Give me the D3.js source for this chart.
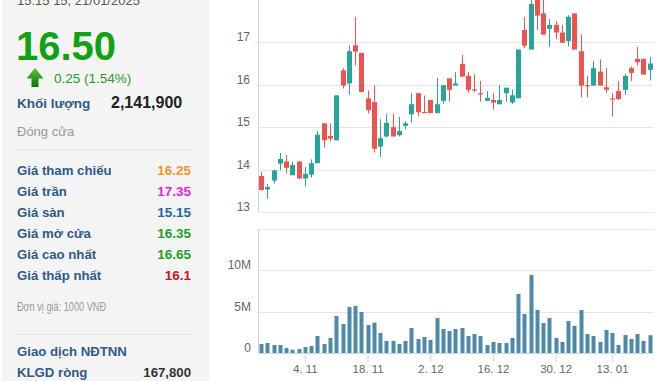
<!DOCTYPE html>
<html><head><meta charset="utf-8">
<script src="https://cdn.jsdelivr.net/npm/d3@7"></script>
<style>
html,body{margin:0;padding:0;background:#fff;overflow:hidden}
svg{display:block;font-family:"Liberation Sans",Arial,sans-serif}
</style></head><body>
<svg id="c" width="659" height="381"></svg>
<script>
// ---------- data ----------
const dates = ["2024-10-24","2024-10-25","2024-10-28","2024-10-29","2024-10-30","2024-10-31","2024-11-01",
"2024-11-04","2024-11-05","2024-11-06","2024-11-07","2024-11-08","2024-11-11","2024-11-12","2024-11-13","2024-11-14","2024-11-15",
"2024-11-18","2024-11-19","2024-11-20","2024-11-21","2024-11-22","2024-11-25","2024-11-26","2024-11-27","2024-11-28","2024-11-29",
"2024-12-02","2024-12-03","2024-12-04","2024-12-05","2024-12-06","2024-12-09","2024-12-10","2024-12-11","2024-12-12","2024-12-13",
"2024-12-16","2024-12-17","2024-12-18","2024-12-19","2024-12-20","2024-12-23","2024-12-24","2024-12-25","2024-12-26","2024-12-27",
"2024-12-30","2024-12-31","2025-01-02","2025-01-03","2025-01-06","2025-01-07","2025-01-08","2025-01-09","2025-01-10",
"2025-01-13","2025-01-14","2025-01-15","2025-01-16","2025-01-17","2025-01-20","2025-01-21"];
const open  = [13.85,13.53,13.74,14.14,14.19,13.87,14.19,13.79,13.88,14.15,15.09,14.79,14.69,16.34,16.03,16.93,16.75,15.68,15.59,14.54,14.78,15.00,14.81,15.03,15.30,15.80,15.36,15.64,15.33,15.62,16.15,15.98,16.49,16.21,15.89,15.80,15.62,15.64,15.54,15.80,15.58,15.68,17.29,16.83,18.05,17.68,17.32,17.41,17.23,17.03,17.68,16.79,15.99,15.98,16.31,15.94,15.68,15.85,15.88,16.39,16.61,16.61,16.35];
const high  = [13.95,13.66,14.00,14.39,14.34,14.19,14.20,14.06,14.24,14.91,15.09,15.09,15.75,16.39,16.92,17.60,16.75,15.86,15.99,15.19,15.31,15.31,15.24,15.14,15.80,15.80,15.75,15.64,16.16,15.99,16.15,16.30,16.70,16.30,16.25,16.09,15.85,15.80,15.99,15.93,15.89,16.83,17.60,18.10,18.20,18.05,17.55,17.50,17.41,17.64,17.68,17.19,16.21,16.56,16.60,16.39,15.80,16.09,16.25,16.43,16.89,16.61,16.65];
const low   = [13.50,13.31,13.67,13.99,13.91,13.86,13.78,13.60,13.81,14.15,14.52,14.67,14.69,15.91,15.77,16.45,15.82,15.32,14.40,14.30,14.76,14.78,14.78,14.96,15.11,15.25,15.35,15.33,15.33,15.55,15.60,15.98,16.19,15.81,15.82,15.60,15.62,15.41,15.54,15.60,15.55,15.68,16.86,16.83,17.29,17.18,16.90,17.07,16.99,16.90,16.83,15.70,15.70,15.98,15.98,15.81,15.25,15.64,15.76,16.09,16.45,16.24,16.10];
const close = [13.52,13.59,13.98,14.25,14.04,14.11,13.79,13.90,14.15,14.82,14.69,14.73,15.75,15.98,16.79,16.78,15.83,15.40,14.49,14.74,15.10,14.78,14.91,15.09,15.54,15.35,15.35,15.33,15.54,15.99,15.88,16.03,16.19,15.88,15.87,15.78,15.69,15.58,15.64,15.93,15.75,16.83,16.92,17.90,17.63,17.18,17.41,17.23,16.99,17.60,16.83,15.98,15.98,16.39,15.98,15.88,15.67,15.66,16.21,16.28,16.53,16.24,16.50];
const volume = [1080000,1200000,960000,960000,600000,400000,480000,720000,840000,2050000,1080000,1810000,4460000,3490000,5540000,5660000,4940000,3370000,3650000,2410000,1450000,1450000,1080000,1450000,3010000,1690000,1930000,1570000,4220000,2890000,2650000,2890000,3010000,2050000,2290000,2050000,960000,1330000,1200000,1200000,1810000,7110000,4700000,9400000,5180000,3610000,4220000,1810000,1330000,3860000,3250000,5180000,2290000,2050000,1330000,2770000,2410000,960000,2170000,1690000,2290000,1450000,2141900];
const tickDates  = ["2024-11-04","2024-11-18","2024-12-02","2024-12-16","2024-12-30","2025-01-13"];
const tickLabels = ["4. 11","18. 11","2. 12","16. 12","30. 12","13. 01"];
const priceTicks = [13,14,15,16,17];
const volumeTicks = [0,5000000,10000000,15000000];
const volumeTickLabels = ["0","5M","10M",""];
const infoLabels = ["Giá tham chiếu","Giá trần","Giá sàn","Giá mở cửa","Giá cao nhất","Giá thấp nhất"];
const infoValues = ["16.25","17.35","15.15","16.35","16.65","16.1"];

// ---------- styles ----------
const UP="#26a69a", DOWN="#ef5350", VOL="#4f89a8", GRID="#e6e6e6", AXIS="#ccd6eb";
const LABEL_BLUE="#2f5a8a";
const infoColors=["#f7941d","#e81ee8","#2d63a3","#1f9e1f","#1f9e1f","#d0121b"];

const svg=d3.select("#c");

// ---------- left info panel ----------
svg.append("rect").attr("x",2).attr("y",0).attr("width",207).attr("height",381).attr("fill","#f4f4f4");
svg.append("text").attr("x",17).attr("y",5).attr("font-size",13).attr("fill","#555").text("15:15 15, 21/01/2025");
svg.append("text").attr("x",16).attr("y",60).attr("font-size",40).attr("font-weight","bold").attr("fill","#12a112").text("16.50");
const defs=svg.append("defs");
const g1=defs.append("linearGradient").attr("id","ag").attr("x1",0).attr("y1",0).attr("x2",0).attr("y2",1);
g1.append("stop").attr("offset","0%").attr("stop-color","#5cc23c");
g1.append("stop").attr("offset","100%").attr("stop-color","#0b740b");
svg.append("path").attr("d","M35,68 L43.5,78.5 L38.5,78.5 L38.5,87 L31.5,87 L31.5,78.5 L26.5,78.5 Z").attr("fill","url(#ag)");
svg.append("text").attr("x",54).attr("y",83).attr("font-size",13.5).attr("fill","#1f9e1f").text("0.25 (1.54%)");
svg.append("text").attr("x",17).attr("y",108).attr("font-size",13.5).attr("font-weight","bold").attr("fill",LABEL_BLUE).text("Khối lượng");
svg.append("text").attr("x",111).attr("y",108).attr("font-size",16).attr("font-weight","bold").attr("fill","#222").text("2,141,900");
svg.append("text").attr("x",17).attr("y",136).attr("font-size",13).attr("fill","#9a9a9a").text("Đóng cửa");
svg.append("line").attr("x1",17).attr("x2",193).attr("y1",149.5).attr("y2",149.5).attr("stroke","#e3e3e3");
infoLabels.forEach((l,i)=>{
  const y=175+i*21;
  svg.append("text").attr("x",17).attr("y",y).attr("font-size",13.2).attr("font-weight","bold").attr("fill",LABEL_BLUE).text(l);
  svg.append("text").attr("x",191).attr("y",y).attr("text-anchor","end").attr("font-size",13.5).attr("font-weight","bold").attr("fill",infoColors[i]).text(infoValues[i]);
});
svg.append("text").attr("x",17).attr("y",310.5).attr("font-size",12).attr("fill","#9a9a9a")
  .attr("textLength",89).attr("lengthAdjust","spacingAndGlyphs").text("Đơn vị giá: 1000 VNĐ");
svg.append("line").attr("x1",17).attr("x2",193).attr("y1",334.5).attr("y2",334.5).attr("stroke","#e3e3e3");
svg.append("text").attr("x",17).attr("y",356).attr("font-size",13.2).attr("font-weight","bold").attr("fill",LABEL_BLUE).text("Giao dịch NĐTNN");
svg.append("text").attr("x",17).attr("y",377).attr("font-size",13.2).attr("font-weight","bold").attr("fill",LABEL_BLUE).text("KLGD ròng");
svg.append("text").attr("x",191).attr("y",377).attr("text-anchor","end").attr("font-size",13.2).attr("font-weight","bold").attr("fill","#333").text("167,800");

// ---------- scales ----------
const x=d3.scalePoint().domain(dates).range([261,649.7]);
const yP=d3.scaleLinear().domain([13,17]).range([212,42.3]);
const yV=d3.scaleLinear().domain([0,10000000]).range([353,270]);
const L=258, R=653;

// price grid
const pg=svg.append("g");
priceTicks.forEach(t=>{
  const y=Math.round(yP(t))+0.5;
  pg.append("line").attr("x1",L).attr("x2",R).attr("y1",y).attr("y2",y).attr("stroke",GRID);
  pg.append("text").attr("x",250).attr("y",y-2).attr("text-anchor","end").attr("font-size",12).attr("fill","#666").text(t);
});
svg.append("line").attr("x1",L+0.5).attr("x2",L+0.5).attr("y1",0).attr("y2",212).attr("stroke",AXIS);

// candles
const cg=svg.append("g");
dates.forEach((d,i)=>{
  const cx=Math.round(x(d));
  const up=close[i]>=open[i];
  const col=up?UP:DOWN;
  cg.append("line").attr("x1",cx+0.5).attr("x2",cx+0.5).attr("y1",yP(high[i])).attr("y2",yP(low[i])).attr("stroke",col).attr("stroke-width",1);
  const yt=yP(Math.max(open[i],close[i])), yb=yP(Math.min(open[i],close[i]));
  cg.append("rect").attr("x",cx-2).attr("width",5).attr("y",yt).attr("height",Math.max(1.2,yb-yt)).attr("fill",col);
});

// volume grid
const vg=svg.append("g");
volumeTicks.forEach((t,i)=>{
  const y=Math.round(yV(t))+0.5;
  vg.append("line").attr("x1",L).attr("x2",R).attr("y1",y).attr("y2",y).attr("stroke",i===0?AXIS:GRID);
  if(volumeTickLabels[i]) vg.append("text").attr("x",251).attr("y",y-1.5).attr("text-anchor","end").attr("font-size",12).attr("fill","#666").text(volumeTickLabels[i]);
});
svg.append("line").attr("x1",L+0.5).attr("x2",L+0.5).attr("y1",228).attr("y2",353).attr("stroke",AXIS);

// volume bars
dates.forEach((d,i)=>{
  const cx=Math.round(x(d));
  const yt=yV(volume[i]);
  svg.append("rect").attr("x",cx-1.5).attr("width",4).attr("y",yt).attr("height",yV(0)-yt).attr("fill",VOL);
});

// x axis
const xa=d3.axisBottom(x).tickValues(tickDates).tickFormat(d=>tickLabels[tickDates.indexOf(d)]).tickSize(9).tickPadding(3);
const xg=svg.append("g").attr("transform","translate(0,353)").call(xa);
xg.select(".domain").remove();
xg.selectAll(".tick line").attr("stroke",AXIS);
xg.selectAll(".tick text").attr("font-size",11.5).attr("fill","#666").attr("font-family","'Liberation Sans',Arial,sans-serif");
</script>
</body></html>
